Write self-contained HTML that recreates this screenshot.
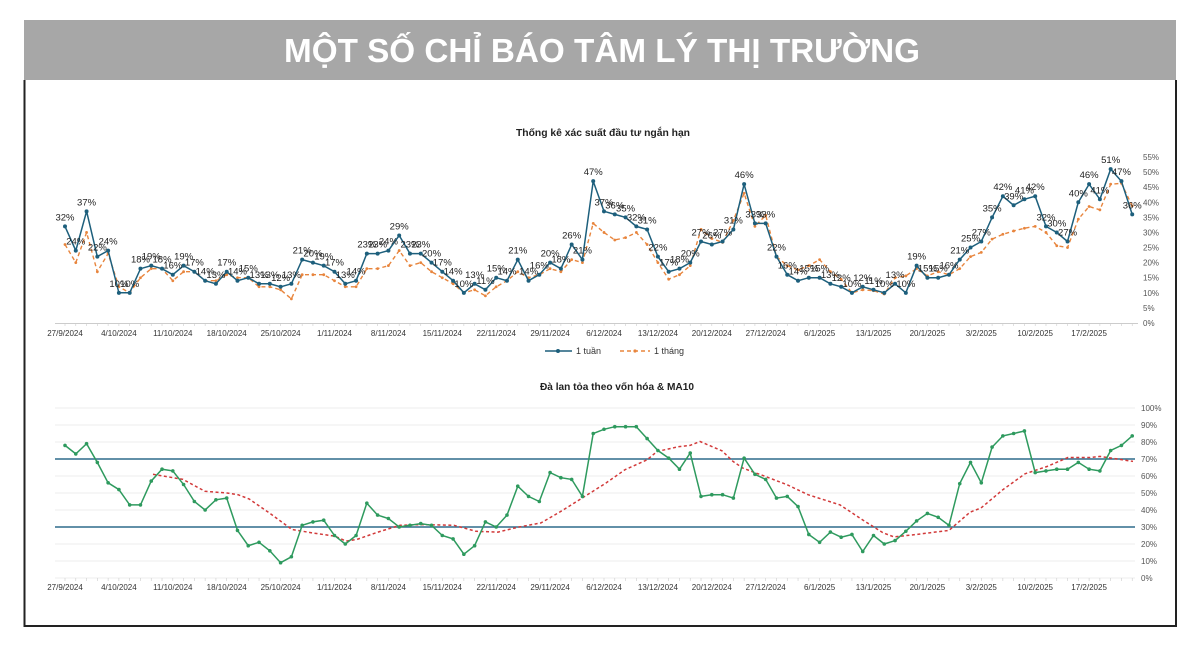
<!DOCTYPE html>
<html><head><meta charset="utf-8"><style>
html,body{margin:0;padding:0;background:#fff;}
svg{display:block;font-family:"Liberation Sans",Arial,sans-serif;}
</style></head><body>
<svg id="s" width="1200" height="650" viewBox="0 0 1200 650" xmlns="http://www.w3.org/2000/svg">
<rect x="0" y="0" width="1200" height="650" fill="#fff"/>
<rect x="24" y="20" width="1152" height="60" fill="#a7a7a7"/>
<text x="602" y="62" text-anchor="middle" fill="#fff" font-weight="bold" font-size="33" textLength="636" lengthAdjust="spacingAndGlyphs">MỘT SỐ CHỈ BÁO TÂM LÝ THỊ TRƯỜNG</text>
<path d="M24.5 80 V626 H1176 V80" fill="none" stroke="#222" stroke-width="2"/>
<text x="603" y="136" text-anchor="middle" font-size="10" font-weight="bold" fill="#222" textLength="174" lengthAdjust="spacingAndGlyphs">Thống kê xác suất đầu tư ngắn hạn</text>
<text x="617" y="390" text-anchor="middle" font-size="10" font-weight="bold" fill="#222" textLength="154" lengthAdjust="spacingAndGlyphs">Đà lan tỏa theo vốn hóa &amp; MA10</text>
<g id="g"></g>
</svg>
<script>
var NS="http://www.w3.org/2000/svg",g=document.getElementById('g'),h='';
var dx=10.78,x0=65;
function X(i){return x0+i*dx;}
var blue=[32,24,37,22,24,10,10,18,19,18,16,19,17,14,13,17,14,15,13,13,12,13,21,20,19,17,13,14,23,23,24,29,23,23,20,17,14,10,13,11,15,14,21,14,16,20,18,26,21,47,37,36,35,32,31,22,17,18,20,27,26,27,31,46,33,33,22,16,14,15,15,13,12,10,12,11,10,13,10,19,15,15,16,21,25,27,35,42,39,41,42,32,30,27,40,46,41,51,47,36];
var org=[26,20,30,17,23,12,10,15,18,18,14,17,17,14,14,16,15,15,12,12,11,8,16,16,16,14,12,12,18,18,19,24,19,20,17,15,13,10,11,9,12,14,17,15,16,18,17,21,20,33,
30,27.5,28.3,30,26,20,14.5,16,19,31,28,26.7,34,43,32,35.7,22,19,17.6,19,21,17,14.5,10,11,10.7,9.6,15,15.6,18,15.6,17,16,18,22,23.4,27.8,29.4,30.5,31.4,32,30,25.6,25,34.4,38.6,37.5,46,46.3,38.8];
function Y1(v){return 323-v*3.018;}
var labs=['27/9/2024','4/10/2024','11/10/2024','18/10/2024','25/10/2024','1/11/2024','8/11/2024','15/11/2024','22/11/2024','29/11/2024','6/12/2024','13/12/2024','20/12/2024','27/12/2024','6/1/2025','13/1/2025','20/1/2025','3/2/2025','10/2/2025','17/2/2025'];
// chart1 axis
h+='<line x1="55" y1="323.5" x2="1138" y2="323.5" stroke="#ccc"/>';
for(var i=0;i<100;i++)h+='<line x1="'+X(i)+'" y1="323" x2="'+X(i)+'" y2="326" stroke="#ccc" stroke-width="0.6"/>';
for(var k=0;k<=11;k++){h+='<text x="1143" y="'+(Y1(k*5)+3)+'" font-size="8" fill="#555">'+(k*5)+'%</text>';}
for(var k=0;k<20;k++){h+='<text x="'+X(k*5)+'" y="336" font-size="8" fill="#333" text-anchor="middle">'+labs[k]+'</text>';}
function pl(arr,yf,st,start){var p=[];for(var i=start||0;i<arr.length;i++)p.push(X(i).toFixed(1)+','+yf(arr[i]).toFixed(1));return '<polyline points="'+p.join(' ')+'" fill="none" '+st+'/>';}
h+=pl(org,Y1,'stroke="#e8853d" stroke-width="1.4" stroke-dasharray="4,3"');
for(var i=0;i<100;i++)h+='<circle cx="'+X(i)+'" cy="'+Y1(org[i])+'" r="1.4" fill="#e8853d"/>';
h+=pl(blue,Y1,'stroke="#1d5f7c" stroke-width="1.5"');
for(var i=0;i<100;i++){h+='<circle cx="'+X(i)+'" cy="'+Y1(blue[i])+'" r="2" fill="#1d5f7c"/>';
h+='<text x="'+X(i)+'" y="'+(Y1(blue[i])-6)+'" font-size="9.5" fill="#222" text-anchor="middle">'+blue[i]+'%</text>';}
// legend
h+='<line x1="545" y1="351" x2="572" y2="351" stroke="#1d5f7c" stroke-width="1.5"/><circle cx="558" cy="351" r="2" fill="#1d5f7c"/><text x="576" y="354" font-size="9" fill="#333">1 tuần</text>';
h+='<line x1="620" y1="351" x2="650" y2="351" stroke="#e8853d" stroke-width="1.4" stroke-dasharray="4,3"/><circle cx="635" cy="351" r="1.6" fill="#e8853d"/><text x="654" y="354" font-size="9" fill="#333">1 tháng</text>';
// chart2
function Y2(v){return 578-v*1.7;}
for(var k=0;k<=10;k++){var yy=Y2(k*10);h+='<line x1="55" y1="'+yy+'" x2="1135" y2="'+yy+'" stroke="#ececec"/>';h+='<text x="1141" y="'+(yy+3)+'" font-size="8" fill="#555">'+(k*10)+'%</text>';}
for(var i=0;i<100;i++)h+='<line x1="'+X(i)+'" y1="578" x2="'+X(i)+'" y2="581" stroke="#ccc" stroke-width="0.6"/>';
for(var k=0;k<20;k++){h+='<text x="'+X(k*5)+'" y="590" font-size="8" fill="#333" text-anchor="middle">'+labs[k]+'</text>';}
h+='<line x1="55" y1="'+Y2(70)+'" x2="1135" y2="'+Y2(70)+'" stroke="#2e6b8c" stroke-width="1.5"/>';
h+='<line x1="55" y1="'+Y2(30)+'" x2="1135" y2="'+Y2(30)+'" stroke="#2e6b8c" stroke-width="1.5"/>';
var grn=[78,73,79,68,56,52,43,43,57,64,63,55,45,40,46,47,28,19,21,16,9,12.5,31,33,34,25,20,25,44,37,35,30,31,32,31,25,23,14,19,33,30,37,54,48,45,62,59,58,48,85,87.5,89,
89,89,82,75,70.5,64,73.5,48,49,49,47,70.5,61,58,47,48,42,25.6,21,27,24,25.6,15.6,25,20,22,27.5,33.6,38,35.7,31,55.5,68,56,77,83.6,85,86.5,62,63,64,64,68,64,63,75,78,83.6];
var ma=[[153,61],[183,58],[205,51],[227,50],[238,49],[249,46.5],[270,38],[292,28.5],[313,26.5],[335,24.6],[346,21.7],[357,22.7],[378,27],[400,31],[422,31.4],[454,31],[476,27.5],[498,27],[519,30],[541,32.4],[562,39.6],[584,47.7],[606,55.9],[625,63.7],[647,69.5],[657,74.4],[679,77.3],[690,78],[700,80.3],[722,74.8],[733,68.6],[743,64.6],[765,59.8],[787,54.9],[808,49],[840,43],[862,34.4],[883,26.6],[894,24.2],[916,25.6],[949,28],[970,38.7],[981,41.2],[1003,52],[1025,61.3],[1047,65.6],[1068,70.9],[1090,70.9],[1100,71.5],[1133,68.6]];
var mp=ma.map(function(p){return p[0]+','+Y2(p[1]).toFixed(1);}).join(' ');
h+='<polyline points="'+mp+'" fill="none" stroke="#d23a3a" stroke-width="1.5" stroke-dasharray="3,2.5" stroke-linejoin="round"/>';
h+=pl(grn,Y2,'stroke="#2e9a5e" stroke-width="1.5"');
for(var i=0;i<100;i++)h+='<circle cx="'+X(i)+'" cy="'+Y2(grn[i])+'" r="1.8" fill="#2e9a5e"/>';
g.innerHTML=h;
</script>
</body></html>
